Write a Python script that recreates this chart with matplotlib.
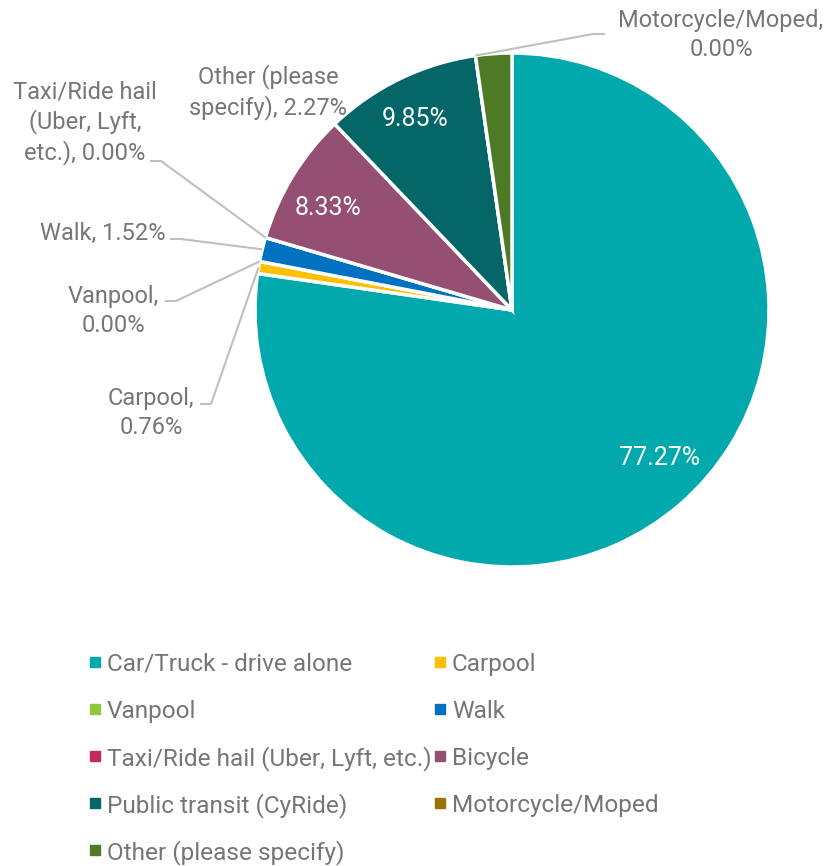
import matplotlib.pyplot as plt
import numpy as np

plt.rcParams['font.family'] = ['Roboto', 'DejaVu Sans']

modes = ["Car/Truck - drive alone", "Carpool", "Vanpool", "Walk",
         "Taxi/Ride hail (Uber, Lyft, etc.)", "Bicycle", "Public transit (CyRide)",
         "Motorcycle/Moped", "Other (please specify)"]
shares = [77.27, 0.76, 0.00, 1.52, 0.00, 8.33, 9.85, 0.00, 2.27]
colors = ["#02A9AC", "#FFC000", "#8DC63F", "#0070C0", "#C62A5B",
          "#954F72", "#046666", "#9A7300", "#4E7A26"]

GREY = "#767676"
W, H = 830, 866
FS_LABEL = 17
FS_INNER = 18
FS_LEGEND = 17.6


def Y(y):
    # pixel rows run downward, axes y runs upward
    return H - y


fig = plt.figure(figsize=(W / 100, H / 100), dpi=100)
ax = fig.add_axes([0, 0, 1, 1])

cx, cy, R = 512, 310, 257
wedges, _ = ax.pie(shares, colors=colors, startangle=90, counterclock=False,
                   center=(cx, Y(cy)), radius=R, frame=True,
                   wedgeprops=dict(edgecolor="white", linewidth=2.5))

ax.set_xlim(0, W)
ax.set_ylim(0, H)
ax.set_aspect("equal")
ax.axis("off")

cum = np.concatenate([[0], np.cumsum(shares)])


def angle_at(frac):
    return np.deg2rad(90 - 3.6 * frac)


# percentages inside the big slices (small nudges in pixels)
nudge = {0: (10, -11), 5: (-4, 8), 6: (-5, -1)}
for i, (dx, dy) in nudge.items():
    a = angle_at((cum[i] + cum[i + 1]) / 2)
    ax.text(cx + 0.82 * R * np.cos(a) + dx, Y(cy) + 0.82 * R * np.sin(a) - dy,
            f"{shares[i]:.2f}%", color="white", fontsize=FS_INNER,
            ha="center", va="center")

# outside labels: text, text centre, leader start (None = no leader)
outside = {
    7: ("Motorcycle/Moped,\n{:.2f}%", (721, 35), (605, 34)),
    8: ("Other (please\nspecify), {:.2f}%", (268, 92), None),
    4: ("Taxi/Ride hail\n(Uber, Lyft,\netc.), {:.2f}%", (85, 123), (150, 161)),
    3: ("Walk, {:.2f}%", (103, 233), (170, 239)),
    2: ("Vanpool,\n{:.2f}%", (113, 311), (165, 301)),
    1: ("Carpool,\n{:.2f}%", (151, 413), (200, 404)),
}
for i, (fmt, (tx, ty), start) in outside.items():
    ax.text(tx, Y(ty), fmt.format(shares[i]), color=GREY, fontsize=FS_LABEL,
            ha="center", va="center", multialignment="center", linespacing=1.3)
    if start is None:
        continue
    a = angle_at((cum[i] + cum[i + 1]) / 2)
    ex, ey = cx + R * np.cos(a), Y(cy) + R * np.sin(a)
    sx, sy = start
    step = -12 if sx > cx else 11
    ax.plot([sx, sx + step, ex], [Y(sy), Y(sy), ey], color="#BFBFBF",
            linewidth=1.5, solid_capstyle="butt")

# legend laid out row by row in two columns
col_marker = [94.5, 440]
col_text = [107, 452]
row_top, row_step = 662, 47
for k, (name, c) in enumerate(zip(modes, colors)):
    row, col = divmod(k, 2)
    ly = Y(row_top + row * row_step)
    ax.plot(col_marker[col], ly, marker="s", markersize=7, color=c,
            linestyle="none")
    ax.text(col_text[col], ly, name, color=GREY, fontsize=FS_LEGEND,
            ha="left", va="center_baseline")

fig.savefig("out.png", dpi=100)
